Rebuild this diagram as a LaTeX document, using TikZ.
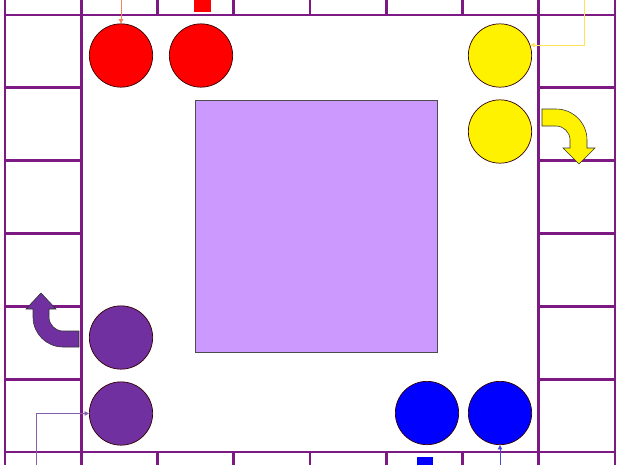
\documentclass[tikz,border=0pt]{standalone}
\usepackage{tikz}
\usetikzlibrary{arrows.meta}
\definecolor{gridpurple}{RGB}{125,25,130}
\definecolor{pawnpurple}{RGB}{112,48,160}
\definecolor{homelilac}{RGB}{204,153,255}
\definecolor{redfeed}{RGB}{245,130,90}
\definecolor{yellowfeed}{RGB}{255,225,90}
\definecolor{purplefeed}{RGB}{135,95,175}
\definecolor{bluefeed}{RGB}{70,70,225}
\tikzset{
  pawn/.style={circle, draw=black!80!red, line width=0.6pt, minimum size=1.9cm, inner sep=0pt},
  feed/.style={line width=0.6pt, -{Triangle[length=1.3mm, width=1.3mm]}},
  turn/.style={draw=black!80, line width=0.5pt, line join=miter}
}

\begin{document}
\begin{tikzpicture}[x=0.03cm, y=-0.03cm, line cap=butt]
  \useasboundingbox (0,0) rectangle (620,465);
  % Parameters
  \pgfmathsetmacro{\cw}{76.25} % cell width
  \pgfmathsetmacro{\ch}{72.83} % cell height

  % Track
  \begin{scope}[draw=gridpurple, line width=2.5pt]
    \draw (5,15) -- (615,15);
    \draw (5,452) -- (615,452);
    \foreach \i in {0,1,7,8}
      \draw ({5+\i*\cw},0) -- ({5+\i*\cw},465);
    \foreach \i in {2,...,6} {
      \draw ({5+\i*\cw},0) -- ({5+\i*\cw},15);
      \draw ({5+\i*\cw},452) -- ({5+\i*\cw},465);
    }
    \foreach \j in {1,...,5} {
      \draw (5,{15+\j*\ch}) -- ({5+\cw},{15+\j*\ch});
      \draw ({5+7*\cw},{15+\j*\ch}) -- (615,{15+\j*\ch});
    }
  \end{scope}

  % Home square
  \filldraw[fill=homelilac, draw=black!70, line width=0.6pt] (195,100) rectangle (437,352);

  % Start squares
  \fill[red] (194,0) rectangle (211,12);
  \fill[blue] (417,457) rectangle (433,465);

  % Pawns
  \node[pawn, fill=red] (r1) at (121,55.5) {};
  \node[pawn, fill=red] (r2) at (201,55.5) {};
  \node[pawn, fill=yellow] (y1) at (500,55.5) {};
  \node[pawn, fill=yellow] (y2) at (500,131.5) {};
  \node[pawn, fill=pawnpurple] (p1) at (121,337.5) {};
  \node[pawn, fill=pawnpurple] (p2) at (121,413.5) {};
  \node[pawn, fill=blue] (b1) at (427,413) {};
  \node[pawn, fill=blue] (b2) at (500,413) {};

  % Entry lines
  \coordinate (rin) at (121,0);
  \coordinate (yin) at (584,0);
  \coordinate (pin) at (36,465);
  \coordinate (bin) at (500,465);
  \draw[feed, redfeed] (rin) -- (r1);
  \draw[feed, yellowfeed] (yin) |- (y1.19);
  \draw[feed, purplefeed] (pin) |- (p2);
  \draw[feed, bluefeed] (bin) -- (b2);

  % Turn arrows
  \filldraw[turn, fill=yellow] (542,109) -- (556,109)
    arc[start angle=-90, end angle=0, radius=31] -- (587,148) -- (595,148)
    -- (579,164) -- (563,148) -- (570,148) -- (570,140)
    arc[start angle=0, end angle=-90, radius=14] -- (542,126) -- cycle;
  \filldraw[turn, fill=pawnpurple] (79,347) -- (63,347)
    arc[start angle=90, end angle=180, radius=30] -- (33,309) -- (26,309)
    -- (41,293) -- (56,309) -- (49,309) -- (49,317)
    arc[start angle=180, end angle=90, radius=14] -- (79,331) -- cycle;
\end{tikzpicture}
\end{document}
